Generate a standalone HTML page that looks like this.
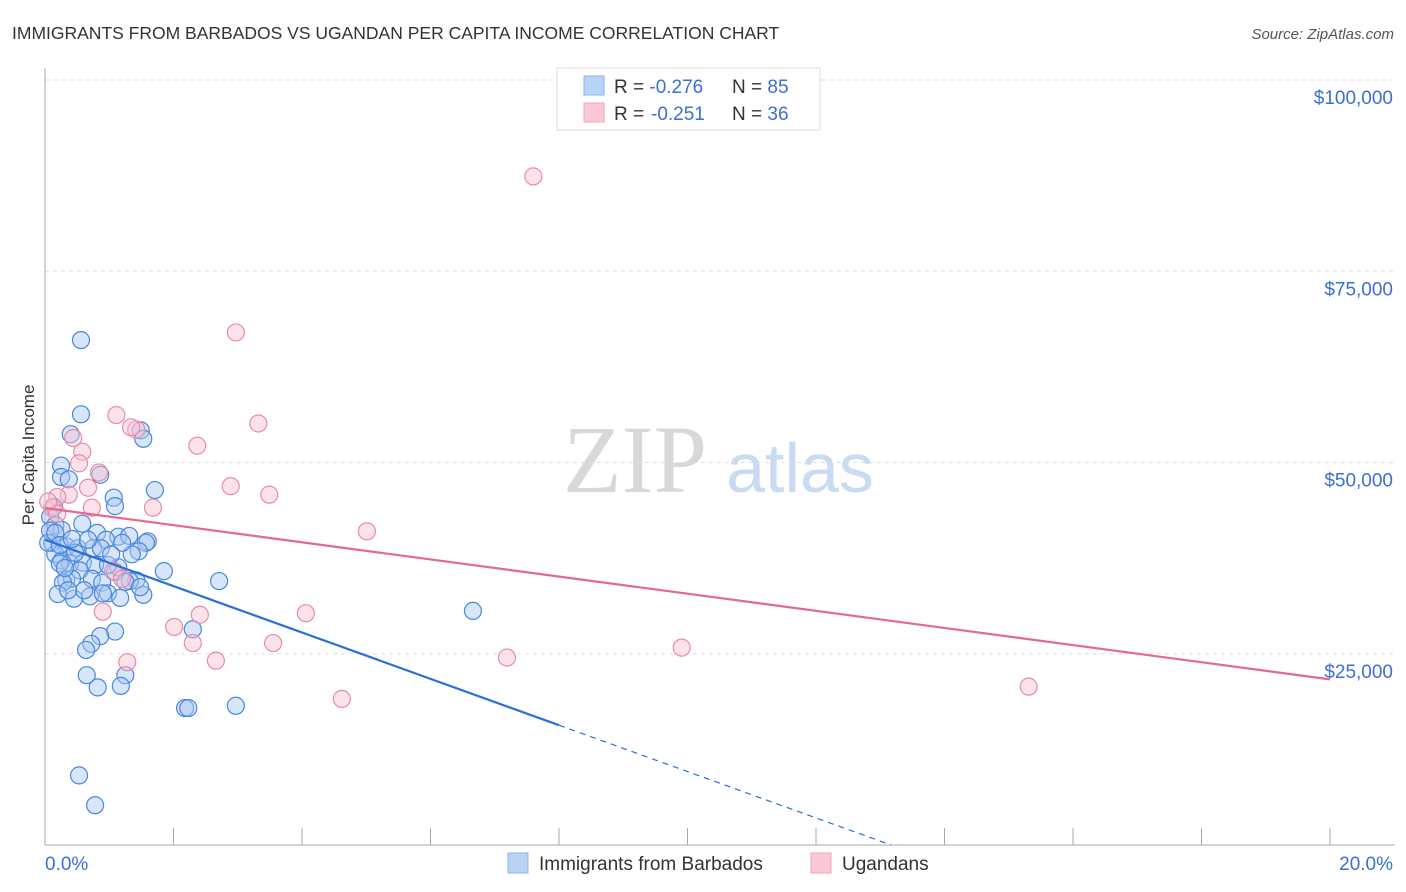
<!DOCTYPE html>
<html><head><meta charset="utf-8"><style>
body{margin:0;background:#fff;font-family:"Liberation Sans",sans-serif;}
#wrap{position:relative;width:1406px;height:892px;overflow:hidden;}
</style></head><body>
<div id="wrap">
<svg id="svg" width="1406" height="892" xmlns="http://www.w3.org/2000/svg">
<text x="12" y="39" font-size="17.5" fill="#333">IMMIGRANTS FROM BARBADOS VS UGANDAN PER CAPITA INCOME CORRELATION CHART</text>
<text x="1394" y="39" font-size="15" fill="#555" text-anchor="end" font-style="italic">Source: ZipAtlas.com</text>
<text x="635" y="492" font-size="96" fill="#d8d8d8" text-anchor="middle" font-family="Liberation Serif,serif">ZIP</text>
<text x="800" y="492" font-size="70" fill="#c9daf2" text-anchor="middle">atlas</text>
<text x="34" y="455" font-size="17" fill="#333" text-anchor="middle" transform="rotate(-90 34 455)">Per Capita Income</text>
<g id="grid"></g><g id="axes"></g><g id="pts"></g><g id="lines"></g>
<g>
<rect x="557" y="68" width="263" height="62" fill="#fff" stroke="#ddd"/>
<rect x="584" y="76" width="20" height="19" fill="#b8d3f5" stroke="#8ab4ea"/>
<rect x="584" y="103" width="20" height="19" fill="#fbc9d6" stroke="#f2a3b9"/>
<text x="614" y="93" font-size="19" fill="#333">R = <tspan fill="#3b6fd4">-0.276</tspan><tspan x="732">N = </tspan><tspan fill="#3b6fd4">85</tspan></text>
<text x="614" y="120" font-size="19" fill="#333">R = <tspan x="651" fill="#3b6fd4">-0.251</tspan><tspan x="732">N = </tspan><tspan fill="#3b6fd4">36</tspan></text>
</g>
<g>
<rect x="508" y="853" width="20" height="20" fill="#b8d3f5" stroke="#8ab4ea"/>
<text x="539" y="870" font-size="19" fill="#333">Immigrants from Barbados</text>
<rect x="811" y="853" width="20" height="20" fill="#fbc9d6" stroke="#f2a3b9"/>
<text x="842" y="870" font-size="19" fill="#333">Ugandans</text>
</g>
</svg></div>
<script>
const NS="http://www.w3.org/2000/svg";
const yTicks=[25000,50000,75000,100000];
const yTickLabels=["$25,000","$50,000","$75,000","$100,000"];
const xTicks=[0,2,4,6,8,10,12,14,16,18,20];
const xTickLabels=["0.0%","20.0%"];
const barbadosX=[0.56,0.56,0.40,1.49,1.53,0.25,0.25,0.37,0.86,1.71,1.07,1.09,0.14,0.08,0.16,0.58,0.26,0.81,1.14,1.31,0.95,1.60,1.57,0.11,0.34,0.51,0.75,0.87,1.46,1.35,0.16,0.26,0.39,0.59,0.23,0.78,0.54,1.85,1.09,1.42,0.73,0.33,0.42,0.89,0.28,2.71,0.20,0.45,0.70,0.98,1.17,1.53,1.14,6.66,2.30,1.09,0.86,0.72,0.64,0.65,1.25,0.82,1.18,2.18,2.23,2.97,0.53,0.78,0.08,0.05,0.16,0.23,0.47,0.98,1.20,1.32,1.03,0.61,0.42,0.67,1.25,1.48,0.90,0.31,0.36];
const barbadosY=[66.0,56.3,53.7,54.2,53.1,49.6,48.1,47.8,48.4,46.4,45.4,44.3,44.2,42.9,41.8,42.0,41.2,40.8,40.3,40.4,39.9,39.7,39.5,39.5,39.0,38.8,38.8,38.8,38.4,38.0,38.0,37.2,36.8,36.9,36.8,36.6,35.9,35.8,35.7,34.6,34.8,34.6,34.8,34.3,34.3,34.5,32.8,32.2,32.5,32.9,32.3,32.7,36.3,30.6,28.2,27.9,27.3,26.3,25.5,22.2,22.2,20.6,20.8,17.9,17.9,18.2,9.1,5.2,41.1,39.5,40.8,39.2,38.2,36.6,39.5,34.5,38.0,33.3,40.0,39.9,34.4,33.7,32.9,36.2,33.3];
const ugandaX=[7.60,2.97,1.11,3.32,1.42,1.34,0.44,0.58,2.37,0.53,0.84,0.67,2.89,3.49,0.37,0.19,0.11,1.68,0.73,0.19,5.01,1.06,1.20,0.90,2.41,4.06,2.01,2.30,3.55,1.28,2.66,7.19,9.91,4.62,15.31,0.05];
const ugandaY=[87.4,67.0,56.2,55.1,54.3,54.6,53.2,51.4,52.2,49.9,48.7,46.7,46.9,45.8,45.8,45.5,44.1,44.1,44.1,43.3,41.0,35.8,34.8,30.5,30.1,30.3,28.5,26.4,26.4,23.9,24.1,24.5,25.8,19.1,20.7,44.9];
const barbadosFit=[39.9,-3.03]; // intercept (k$), slope per %
const ugandaFit=[44.05,-1.12];
const X0=45,X1=1330,Y0=845,Ytop=80;
const xs=p=>X0+p*(X1-X0)/20;
const ys=v=>Y0-v*(Y0-Ytop)/100000;
function mk(t,a,parent){const e=document.createElementNS(NS,t);for(const k in a)e.setAttribute(k,a[k]);document.getElementById(parent).appendChild(e);return e;}
yTicks.forEach((v,i)=>{
 const l=mk('line',{x1:X0,x2:1395,y1:ys(v),y2:ys(v),stroke:'#ddd','stroke-dasharray':'4,4'},'grid');
 
 
 const t=mk('text',{x:1393,y:ys(v)+24,'text-anchor':'end','font-size':19,fill:'#3b6fd4'},'grid');
 t.textContent=yTickLabels[i];
 
 
});
const gl=mk('line',{x1:X0,x2:1395,y1:ys(100000),y2:ys(100000),stroke:'#ddd','stroke-dasharray':'4,4'},'grid');
const ax=mk('line',{x1:X0,x2:X0,y1:68,y2:Y0,stroke:'#aaa'},'axes');


const bx=mk('line',{x1:X0,x2:1395,y1:Y0,y2:Y0,stroke:'#aaa'},'axes');


xTicks.forEach(p=>{const t=mk('line',{x1:xs(p),x2:xs(p),y1:828,y2:Y0,stroke:'#aaa'},'axes');
 
 });
[[0,xTickLabels[0],'start',45],[20,xTickLabels[1],'end',1393]].forEach(([p,s,a,x])=>{
 const t=mk('text',{x:x,y:870,'text-anchor':a,'font-size':19,fill:'#3b6fd4'},'axes');t.textContent=s;
 
 });
function pts(X,Y,fill,stroke,name){X.forEach((x,i)=>{
 const c=mk('circle',{cx:xs(x),cy:ys(Y[i]*1000),r:8.5,fill:fill,'fill-opacity':0.45,stroke:stroke,'stroke-width':1.2},'pts');
 
 });}
pts(barbadosX,barbadosY,'#a8c8f2','#4a86de','barbados-point');
pts(ugandaX,ugandaY,'#f9c0d0','#ea8aa8','ugandan-point');
const bEnd=8, bZero=-barbadosFit[0]/barbadosFit[1];
const bl=mk('line',{x1:xs(0),y1:ys(barbadosFit[0]*1000),x2:xs(bEnd),y2:ys((barbadosFit[0]+barbadosFit[1]*bEnd)*1000),stroke:'#2a6fd8','stroke-width':2.2},'lines');


const bd=mk('line',{x1:xs(bEnd),y1:ys((barbadosFit[0]+barbadosFit[1]*bEnd)*1000),x2:xs(bZero),y2:ys(0),stroke:'#2a6fd8','stroke-width':1.2,'stroke-dasharray':'6,5'},'lines');


const ul=mk('line',{x1:xs(0),y1:ys(ugandaFit[0]*1000),x2:xs(20),y2:ys((ugandaFit[0]+ugandaFit[1]*20)*1000),stroke:'#e4688f','stroke-width':2.2},'lines');


</script>
</body></html>
